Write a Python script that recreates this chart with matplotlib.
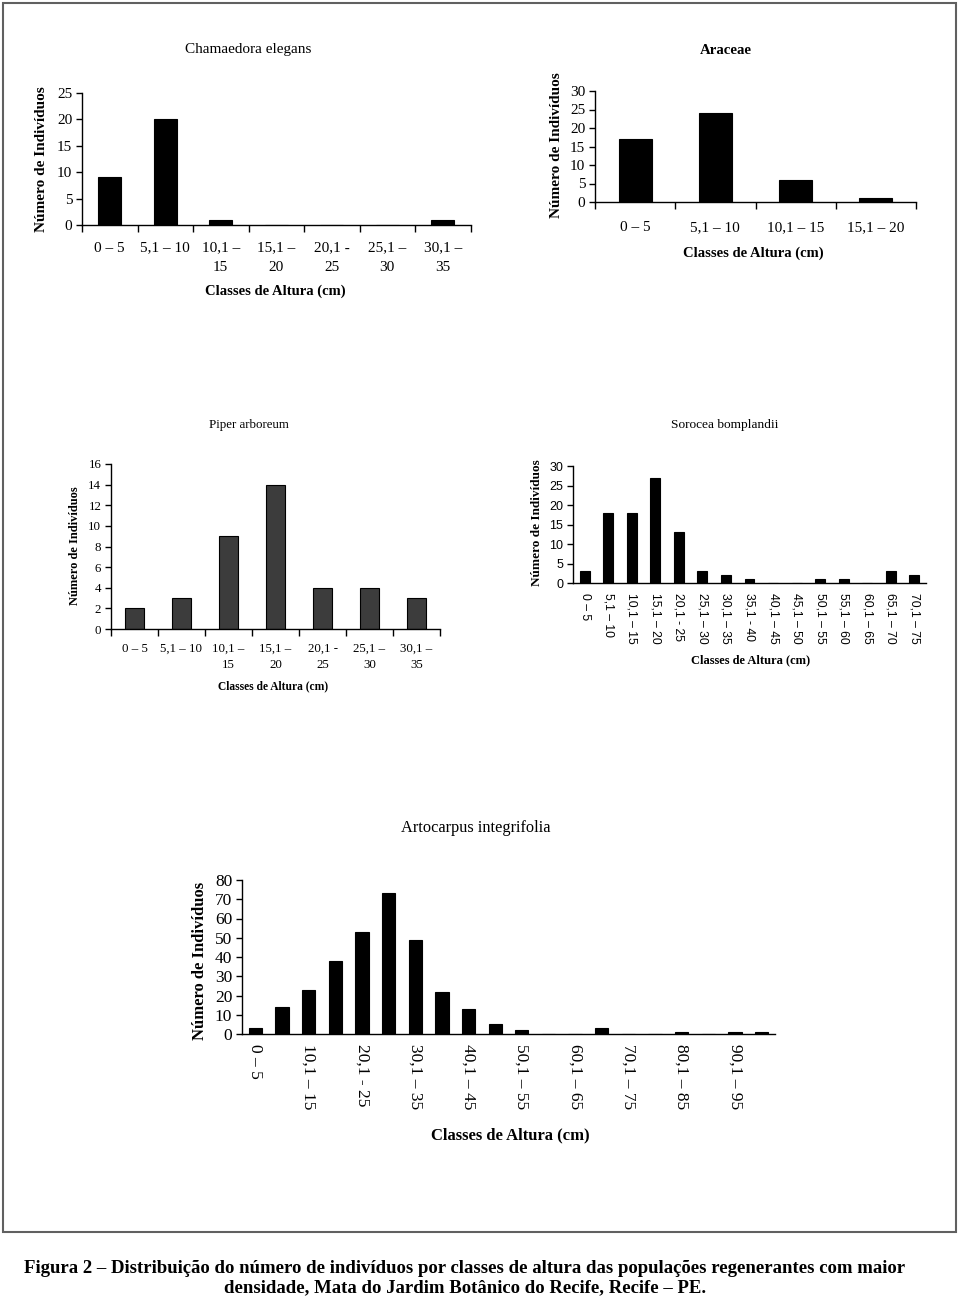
import matplotlib
matplotlib.use('Agg')
import matplotlib.pyplot as plt
import matplotlib.patches as patches
import numpy as np

plt.rcParams['font.family'] = ['Liberation Serif', 'DejaVu Serif']

# Chamaedora elegans
cham_labels = ['0 – 5', '5,1 – 10', '10,1 –\n15', '15,1 –\n20', '20,1 -\n25', '25,1 –\n30', '30,1 –\n35']
cham_values = [9, 20, 1, 0, 0, 0, 1]

# Araceae
arac_labels = ['0 – 5', '5,1 – 10', '10,1 – 15', '15,1 – 20']
arac_values = [17, 24, 6, 1]

# Piper arboreum
piper_labels = ['0 – 5', '5,1 – 10', '10,1 –\n15', '15,1 –\n20', '20,1 -\n25', '25,1 –\n30', '30,1 –\n35']
piper_values = [2, 3, 9, 14, 4, 4, 3]

# Sorocea bomplandii
soro_labels = ['0 – 5', '5,1 – 10', '10,1 – 15', '15,1 – 20', '20,1 - 25', '25,1 – 30', '30,1 – 35',
               '35,1 - 40', '40,1 – 45', '45,1 – 50', '50,1 – 55', '55,1 – 60', '60,1 – 65',
               '65,1 – 70', '70,1 – 75']
soro_values = [3, 18, 18, 27, 13, 3, 2, 1, 0, 0, 1, 1, 0, 3, 2]

# Artocarpus integrifolia
arto_labels = ['0 – 5', '5,1 – 10', '10,1 – 15', '15,1 – 20', '20,1 - 25', '25,1 – 30', '30,1 – 35',
               '35,1 – 40', '40,1 – 45', '45,1 – 50', '50,1 – 55', '55,1 – 60', '60,1 – 65',
               '65,1 – 70', '70,1 – 75', '75,1 – 80', '80,1 – 85', '85,1 – 90', '90,1 – 95',
               '95,1 – 100']
arto_values = [3, 14, 23, 38, 53, 73, 49, 22, 13, 5, 2, 0, 0, 3, 0, 0, 1, 0, 1, 1]

ylab = 'Número de Indivíduos'
xlab = 'Classes de Altura (cm)'
caption = ('Figura 2 – Distribuição do número de indivíduos por classes de altura das populações '
           'regenerantes com maior\ndensidade, Mata do Jardim Botânico do Recife, Recife – PE.')

W, H = 960, 1299
fig = plt.figure(figsize=(W / 100, H / 100), dpi=100)


def px_axes(x0, y0, x1, y1):
    # axes rect given in image pixels (top-left origin)
    return fig.add_axes([x0 / W, 1 - y1 / H, (x1 - x0) / W, (y1 - y0) / H])


def ftext(x, y, s, **kw):
    fig.text(x / W, 1 - y / H, s, ha='center', va='center', **kw)


def bars(ax, labels, values, ymax, ystep, width, color='black', fsize=11, ysize=None,
         boundary_ticks=True, every=1, tick_family=None, xpad=6, lsp=1.35):
    n = len(values)
    x = np.arange(n)
    ax.bar(x, values, width=width, color=color, edgecolor='black', linewidth=0.8)
    ax.set_xlim(-0.5, n - 0.5)
    ax.set_ylim(0, ymax)
    ax.set_yticks(np.arange(0, ymax + 1, ystep))
    for s in ['top', 'right']:
        ax.spines[s].set_visible(False)
    for s in ['left', 'bottom']:
        ax.spines[s].set_linewidth(1.0)
    ax.tick_params(axis='y', direction='out', length=4, width=1,
                   labelsize=ysize or fsize, pad=3)
    if boundary_ticks:
        ax.set_xticks(np.arange(n + 1) - 0.5)
        ax.set_xticklabels([])
        ax.tick_params(axis='x', which='major', direction='out', length=5, width=1)
        ax.set_xticks(x, minor=True)
        ax.set_xticklabels(labels, minor=True, fontsize=fsize, linespacing=lsp)
        ax.tick_params(axis='x', which='minor', length=0, pad=xpad)
    else:
        ax.set_xticks(x[::every])
        ax.set_xticklabels(labels[::every], fontsize=fsize, rotation=-90)
        ax.tick_params(axis='x', length=0, pad=xpad)
    if tick_family:
        for t in ax.get_xticklabels() + ax.get_yticklabels():
            t.set_family(tick_family)


# top left
ax1 = px_axes(82, 93, 470.5, 225)
bars(ax1, cham_labels, cham_values, 25, 5, 0.42, fsize=11, xpad=12, lsp=1.6)
ftext(248, 50, 'Chamaedora elegans', fontsize=11)
ftext(275, 291, xlab, fontsize=10.5, fontweight='bold')
ftext(42, 159, ylab, fontsize=11, fontweight='bold', rotation=90)

# top right
ax2 = px_axes(595, 91, 916, 202)
bars(ax2, arac_labels, arac_values, 30, 5, 0.41, fsize=11, xpad=14)
ftext(726, 50, 'Araceae', fontsize=10.7, fontweight='bold')
ftext(753, 253, xlab, fontsize=10.5, fontweight='bold')
ftext(556, 145, ylab, fontsize=11, fontweight='bold', rotation=90)

# middle left
ax3 = px_axes(111, 464, 440, 629)
bars(ax3, piper_labels, piper_values, 16, 2, 0.41, color='#3c3c3c', fsize=9.3, ysize=9.3,
     xpad=10, lsp=1.5)
ftext(249, 425, 'Piper arboreum', fontsize=9.3)
ftext(273, 686, xlab, fontsize=8.3, fontweight='bold')
ftext(75, 546, ylab, fontsize=9, fontweight='bold', rotation=90)

# middle right
ax4 = px_axes(573, 466, 926, 583)
bars(ax4, soro_labels, soro_values, 30, 5, 0.42, fsize=8.7, ysize=9, boundary_ticks=False,
     tick_family=['Liberation Sans', 'DejaVu Sans'], xpad=7)
ftext(725, 425, 'Sorocea bomplandii', fontsize=9.6)
ftext(751, 660, xlab, fontsize=9, fontweight='bold')
ftext(537, 523, ylab, fontsize=9.5, fontweight='bold', rotation=90)

# bottom
ax5 = px_axes(242, 880, 775, 1034)
bars(ax5, arto_labels, arto_values, 80, 10, 0.5, fsize=12.5, boundary_ticks=False, every=2, xpad=7)
ftext(476, 828, 'Artocarpus integrifolia', fontsize=11.8)
ftext(510, 1135, xlab, fontsize=12, fontweight='bold')
ftext(200, 961, ylab, fontsize=12, fontweight='bold', rotation=90)

# frame around the panels
fig.patches.append(patches.Rectangle((2.5 / W, 1 - 1232 / H), 953 / W, 1229 / H,
                                     transform=fig.transFigure, fill=False,
                                     edgecolor='#606060', linewidth=1.5))

ftext(465, 1278, caption, fontsize=13.5, fontweight='bold', linespacing=1.15)

fig.savefig('out.png', dpi=100)
